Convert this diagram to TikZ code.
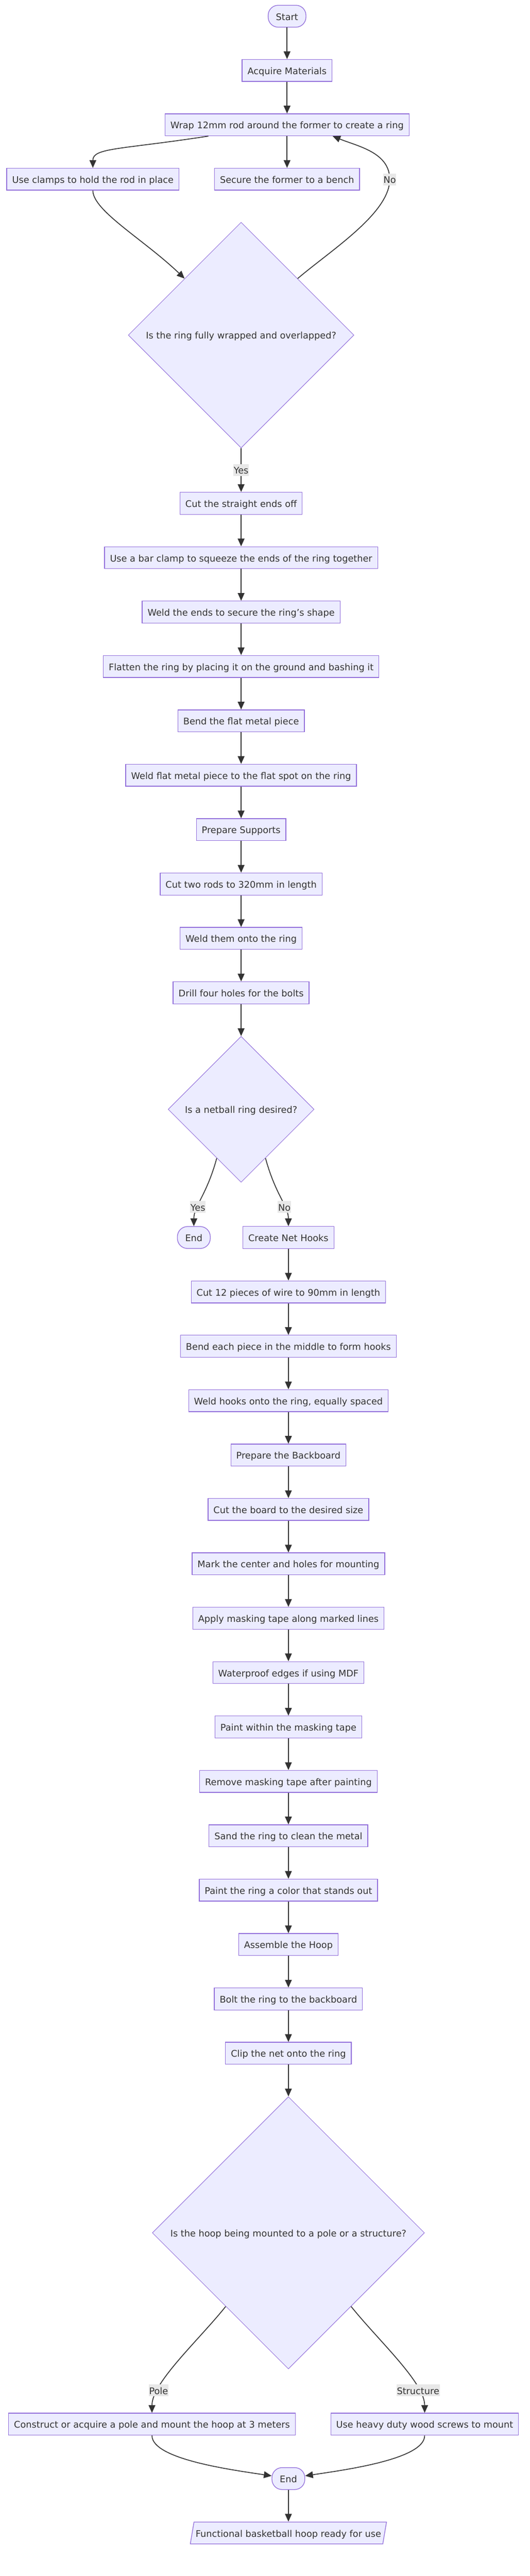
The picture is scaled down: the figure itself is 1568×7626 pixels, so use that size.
\documentclass[tikz,border=0pt]{standalone}
\usepackage{fontspec}
\setmainfont{DejaVu Sans}
\usepackage{tikz}
\usetikzlibrary{shapes.geometric,shapes.misc,arrows.meta,calc}
\definecolor{boxfill}{HTML}{ECECFF}
\definecolor{boxline}{HTML}{9370DB}
\definecolor{ink}{HTML}{333333}
\definecolor{lblfill}{HTML}{E8E8E8}
\tikzstyle{connector} = [line width=2.5pt, draw=ink, -{Triangle[length=23pt,width=20pt]}]
\tikzstyle{task} = [rectangle, draw=boxline, fill=boxfill, line width=2pt, minimum height=65pt, inner xsep=16pt, inner ysep=0pt]
\tikzstyle{terminal} = [task, rounded corners=30pt, inner xsep=23pt]
\tikzstyle{decision} = [diamond, aspect=1, draw=boxline, fill=boxfill, line width=1.5pt, inner sep=0pt]
\tikzstyle{output} = [trapezium, trapezium left angle=64.5, trapezium right angle=115.5, trapezium stretches body, draw=boxline, fill=boxfill, line width=2pt, minimum height=65pt, inner xsep=5pt, inner ysep=0pt]
\tikzstyle{answer} = [fill=lblfill, inner xsep=1pt, inner ysep=0pt, minimum height=35pt]

\begin{document}
\begin{tikzpicture}[x=1pt, y=1pt, node distance=161pt, font=\fontsize{27pt}{32pt}\selectfont,
                    every node/.append style={text=ink, text height=23pt, text depth=0pt}]
                \useasboundingbox (0,0) rectangle (1568,-7626);

                \node (start) [terminal] at (850,-48) {Start};
                \node (acquire) [task, below of=start, node distance=160.5pt] {Acquire Materials};
                \node (wrap) [task, below of=acquire] {Wrap 12mm rod around the former to create a ring};
                \node (secure) [task, below of=wrap] {Secure the former to a bench};
                \node (clamps) [task] at (275,-530.5) {Use clamps to hold the rod in place};
                \node (wrapped) [decision, minimum size=668pt] at (714,-992) {Is the ring fully wrapped and overlapped?};
                \coordinate (nobend) at (1154,-531);

                \node (cutends) [task] at (714,-1490) {Cut the straight ends off};
                \node (squeeze) [task, below of=cutends] {Use a bar clamp to squeeze the ends of the ring together};
                \node (weldends) [task, below of=squeeze] {Weld the ends to secure the ring's shape};
                \node (flatten) [task, below of=weldends] {Flatten the ring by placing it on the ground and bashing it};
                \node (bendplate) [task, below of=flatten] {Bend the flat metal piece};
                \node (weldplate) [task, below of=bendplate] {Weld flat metal piece to the flat spot on the ring};
                \node (supports) [task, below of=weldplate] {Prepare Supports};
                \node (cutrods) [task, below of=supports] {Cut two rods to 320mm in length};
                \node (weldrods) [task, below of=cutrods] {Weld them onto the ring};
                \node (drill) [task, below of=weldrods] {Drill four holes for the bolts};
                \node (netball) [decision, minimum size=432pt] at (714,-3284) {Is a netball ring desired?};

                \node (finish) [terminal] at (574,-3663.5) {End};
                \node (hooks) [task] at (854,-3663.5) {Create Net Hooks};
                \node (cutwire) [task, below of=hooks] {Cut 12 pieces of wire to 90mm in length};
                \node (bendwire) [task, below of=cutwire] {Bend each piece in the middle to form hooks};
                \node (weldhooks) [task, below of=bendwire] {Weld hooks onto the ring, equally spaced};
                \node (backboard) [task, below of=weldhooks] {Prepare the Backboard};
                \node (cutboard) [task, below of=backboard] {Cut the board to the desired size};
                \node (markboard) [task, below of=cutboard] {Mark the center and holes for mounting};
                \node (maskon) [task, below of=markboard] {Apply masking tape along marked lines};
                \node (waterproof) [task, below of=maskon] {Waterproof edges if using MDF};
                \node (paintboard) [task, below of=waterproof] {Paint within the masking tape};
                \node (maskoff) [task, below of=paintboard] {Remove masking tape after painting};
                \node (sand) [task, below of=maskoff] {Sand the ring to clean the metal};
                \node (paintring) [task, below of=sand] {Paint the ring a color that stands out};
                \node (assemble) [task, below of=paintring] {Assemble the Hoop};
                \node (bolt) [task, below of=assemble] {Bolt the ring to the backboard};
                \node (clipnet) [task, below of=bolt] {Clip the net onto the ring};
                \node (mount) [decision, minimum size=806pt] at (854,-6610) {Is the hoop being mounted to a pole or a structure?};

                \node (pole) [task] at (450,-7176.5) {Construct or acquire a pole and mount the hoop at 3 meters};
                \node (screws) [task] at (1257.5,-7176.5) {Use heavy duty wood screws to mount};
                \node (done) [terminal] at (854,-7337.5) {End};
                \node (ready) [output] at (854,-7498.5) {Functional basketball hoop ready for use};

                \draw [connector] (start) -- (acquire);
                \draw [connector] (acquire) -- (wrap);
                \draw [connector] ([xshift=-233pt]wrap.south) .. controls +(-260,-40) and +(0,60) .. (clamps.north);
                \draw [connector] (wrap) -- (secure);
                \draw [connector] (clamps.south) .. controls +(0,-60) and +(-120,115) .. (wrapped.north west);
                \draw [connector] (wrapped.north east) .. controls +(100,85) and +(0,-100) .. (nobend)
                        .. controls +(0,80) and +(74,-30) .. ([xshift=135pt]wrap.south);
                \node [answer] at (nobend) {No};
                \draw [connector] (wrapped) -- node[answer] {Yes} (cutends);

                \draw [connector] (cutends) -- (squeeze);
                \draw [connector] (squeeze) -- (weldends);
                \draw [connector] (weldends) -- (flatten);
                \draw [connector] (flatten) -- (bendplate);
                \draw [connector] (bendplate) -- (weldplate);
                \draw [connector] (weldplate) -- (supports);
                \draw [connector] (supports) -- (cutrods);
                \draw [connector] (cutrods) -- (weldrods);
                \draw [connector] (weldrods) -- (drill);
                \draw [connector] (drill) -- (netball);

                \draw [connector] ($(netball.south)!0.333!(netball.west)$) .. controls +(-30,-110) and +(0,60) .. node[answer, pos=0.65] {Yes} (finish.north);
                \draw [connector] ($(netball.south)!0.333!(netball.east)$) .. controls +(30,-110) and +(0,60) .. node[answer, pos=0.65] {No} (hooks.north);

                \draw [connector] (hooks) -- (cutwire);
                \draw [connector] (cutwire) -- (bendwire);
                \draw [connector] (bendwire) -- (weldhooks);
                \draw [connector] (weldhooks) -- (backboard);
                \draw [connector] (backboard) -- (cutboard);
                \draw [connector] (cutboard) -- (markboard);
                \draw [connector] (markboard) -- (maskon);
                \draw [connector] (maskon) -- (waterproof);
                \draw [connector] (waterproof) -- (paintboard);
                \draw [connector] (paintboard) -- (maskoff);
                \draw [connector] (maskoff) -- (sand);
                \draw [connector] (sand) -- (paintring);
                \draw [connector] (paintring) -- (assemble);
                \draw [connector] (assemble) -- (bolt);
                \draw [connector] (bolt) -- (clipnet);
                \draw [connector] (clipnet) -- (mount);

                \draw [connector] ($(mount.south)!0.46!(mount.west)$) .. controls +(-80,-100) and +(0,90) .. node[answer, pos=0.77] {Pole} (pole.north);
                \draw [connector] ($(mount.south)!0.46!(mount.east)$) .. controls +(80,-100) and +(0,90) .. node[answer, pos=0.77] {Structure} (screws.north);
                \draw [connector] (pole.south) .. controls +(0,-70) and +(-120,18) .. ([yshift=8pt]done.west);
                \draw [connector] (screws.south) .. controls +(0,-70) and +(120,18) .. ([yshift=8pt]done.east);
                \draw [connector] (done) -- (ready);
            \end{tikzpicture}
\end{document}
